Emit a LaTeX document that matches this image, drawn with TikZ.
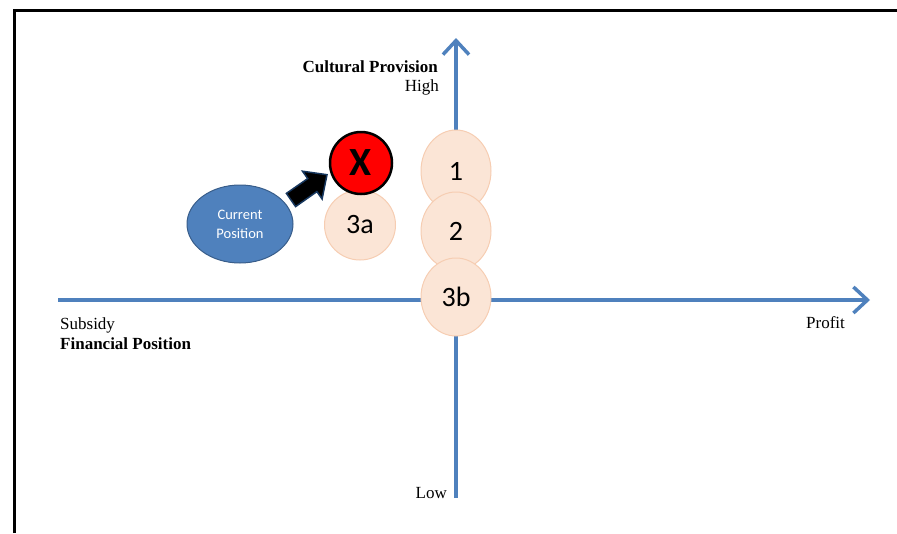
\documentclass[tikz,border=0pt]{standalone}
\usepackage{fontspec}
\setmainfont{Liberation Serif}
\newfontfamily\calib{Carlito}
\usetikzlibrary{arrows.meta,shapes.geometric}
\definecolor{axisblue}{RGB}{79,129,189}
\definecolor{peachfill}{RGB}{251,229,214}
\definecolor{peachline}{RGB}{246,205,178}
\definecolor{curfill}{RGB}{79,129,189}
\definecolor{curline}{RGB}{56,93,138}
\definecolor{darknavy}{RGB}{23,55,94}
\begin{document}
\begin{tikzpicture}[x=1pt,y=-1pt,
  axis/.style={draw=axisblue,line width=3.5pt,-{Straight Barb[length=14pt,width=26pt,line width=3.5pt]}},
  option/.style={ellipse,draw=peachline,fill=peachfill,line width=1pt,inner sep=0pt,font=\calib\fontsize{28}{30}\selectfont},
  lbl/.style={inner sep=0pt,font=\fontsize{17}{19}\selectfont},
  blbl/.style={lbl,font=\bfseries\fontsize{17}{19}\selectfont}]
\useasboundingbox (0,0) rectangle (897,533);
% frame (cut at right and bottom)
\draw[line width=3pt,black] (14,533) -- (14,10) -- (897,10);
% axes
\coordinate (xstart) at (58,300);
\coordinate (xend) at (870,300);
\coordinate (ystart) at (456,498);
\coordinate (yend) at (456,38);
\draw[axis] (xstart) -- (xend);
\draw[axis] (ystart) -- (yend);
% option ellipses
\node[option,minimum width=70pt,minimum height=82pt] (o1) at (456,171) {1};
\node[option,minimum width=70pt,minimum height=78pt] (o2) at (456,231) {2};
\node[option,minimum width=70pt,minimum height=78pt] (o3b) at (456,297) {3b};
\node[option,minimum width=71pt,minimum height=70pt] (o3a) at (360,225) {3a};
% target X
\node[circle,draw=black,fill=red,line width=2.5pt,minimum width=62pt,inner sep=0pt,
  font=\calib\bfseries\fontsize{40}{42}\selectfont] (tx) at (361,163) {X};
% current position
\node[ellipse,draw=curline,fill=curfill,line width=1pt,minimum width=106pt,minimum height=78pt,
  inner sep=0pt,align=center,text=white,font=\calib\fontsize{14.5}{19}\selectfont] (cur) at (240,224) {Current\\Position};
% block arrow
\filldraw[fill=black,draw=darknavy,line width=1.5pt,line join=miter]
  (295.6,206.6) -- (286.4,193.4) -- (307.7,178.6) -- (302.5,171.2) -- (327,174.7)
  -- (322.1,199.0) -- (316.9,191.6) -- cycle;
% labels
\node[blbl,anchor=east] (cp) at (438,67) {Cultural Provision};
\node[lbl,anchor=east] (hi) at (439,87) {High};
\node[lbl,anchor=east] (lo) at (447,493) {Low};
\node[lbl,anchor=west] (sub) at (60,325) {Subsidy};
\node[blbl,anchor=west] (fp) at (60,344) {Financial Position};
\node[lbl,anchor=west] (pr) at (806,323) {Profit};
\end{tikzpicture}
\end{document}
